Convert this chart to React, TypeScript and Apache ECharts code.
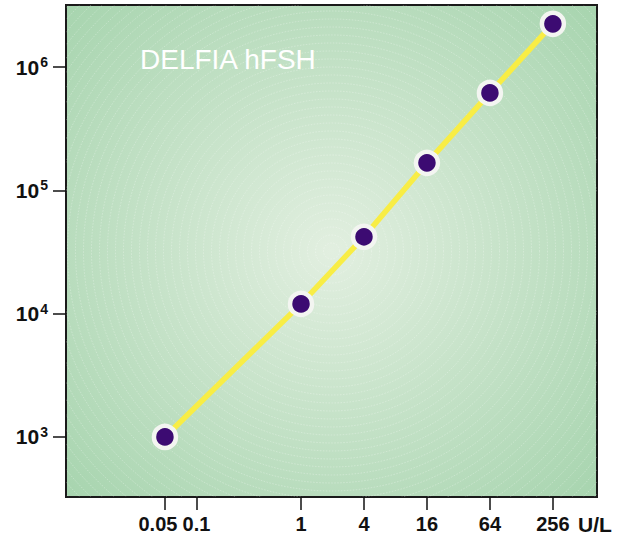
import React, { useEffect, useRef } from "react";
import * as echarts from "echarts";

const concentrations = [0.05, 1, 4, 16, 64, 256];
const counts = [1000, 12000, 42000, 167000, 617000, 2240000];
const xTickValues = [0.05, 0.1, 1, 4, 16, 64, 256];
const xTickLabels = ["0.05", "0.1", "1", "4", "16", "64", "256"];
const yTickValues = [1000, 10000, 100000, 1000000];
const titleText = "DELFIA hFSH";
const unitText = "U/L";

const FONT = "'Liberation Sans', Arial, Helvetica, sans-serif";

export default function App() {
  const ref = useRef<HTMLDivElement>(null);
  useEffect(() => {
    if (!ref.current) return;
    const chart = echarts.init(ref.current, null, { renderer: "svg" });
    const xMin = -2.247;
    const xMax = 2.83;
    const yMin = 2.513;
    const yMax = 6.503;
    const xLog = xTickValues.map((v) => Math.log10(v));
    const yLog = yTickValues.map((v) => Math.log10(v));
    const points = concentrations.map((c, i) => [Math.log10(c), Math.log10(counts[i])]);

    const nearestIndex = (v: number) => {
      let best = 0;
      let bd = Infinity;
      xLog.forEach((t, i) => {
        const d = Math.abs(t - v);
        if (d < bd) {
          bd = d;
          best = i;
        }
      });
      return best;
    };

    chart.setOption({
      animation: false,
      title: {
        text: titleText,
        left: 135,
        top: 40,
        textStyle: { color: "#ffffff", fontSize: 28, fontWeight: "normal", fontFamily: FONT },
      },
      grid: {
        left: 66,
        right: 42,
        top: 5,
        bottom: 40,
        show: true,
        borderColor: "#1a1a1a",
        borderWidth: 2,
        backgroundColor: {
          type: "radial",
          x: 0.5,
          y: 0.5,
          r: 0.74,
          colorStops: [
            { offset: 0, color: "#e2efe0" },
            { offset: 1, color: "#a4d3ac" },
          ],
        },
      },
      xAxis: {
        type: "value",
        min: xMin,
        max: xMax,
        splitLine: { show: false },
        axisLine: { show: false, onZero: false },
        axisTick: {
          show: true,
          length: 13,
          customValues: xLog,
          lineStyle: { color: "#111", width: 1.5 },
        },
        axisLabel: {
          customValues: xLog,
          margin: 17,
          hideOverlap: false,
          formatter: (v: number) => {
            const i = nearestIndex(v);
            return i === 0 ? "{l|" + xTickLabels[i] + "}" : xTickLabels[i];
          },
          color: "#111",
          fontSize: 20,
          fontWeight: "bold",
          fontFamily: FONT,
          rich: {
            l: {
              fontSize: 20,
              fontWeight: "bold",
              fontFamily: FONT,
              color: "#111",
              padding: [0, 14, 0, 0],
            },
          },
        },
      },
      yAxis: {
        type: "value",
        min: yMin,
        max: yMax,
        splitLine: { show: false },
        axisLine: { show: false, onZero: false },
        axisTick: {
          show: true,
          length: 13,
          customValues: yLog,
          lineStyle: { color: "#111", width: 1.5 },
        },
        axisLabel: {
          customValues: yLog,
          margin: 18,
          hideOverlap: false,
          formatter: (v: number) => "{b|10}{s|" + Math.round(v) + "}",
          rich: {
            b: { fontSize: 21, fontWeight: "bold", fontFamily: FONT, color: "#111" },
            s: {
              fontSize: 14,
              fontWeight: "bold",
              fontFamily: FONT,
              color: "#111",
              verticalAlign: "top",
              padding: [0, 0, 10, 1],
            },
          },
        },
      },
      graphic: [
        {
          type: "text",
          left: 578,
          top: 514,
          style: {
            text: unitText,
            fill: "#111",
            fontSize: 21,
            fontWeight: "bold",
            fontFamily: FONT,
          },
        },
      ],
      series: [
        {
          type: "custom",
          silent: true,
          clip: true,
          z: 1,
          data: [[(xMin + xMax) / 2, (yMin + yMax) / 2]],
          renderItem: (params: any, api: any) => {
            const c = api.coord([api.value(0), api.value(1)]);
            const children: any[] = [];
            for (let r = 8; r < 380; r += 8) {
              children.push({
                type: "circle",
                shape: { cx: c[0], cy: c[1], r },
                style: {
                  fill: "none",
                  stroke: "rgba(255,255,255,0.35)",
                  lineWidth: 0.8,
                  lineDash: [1.5, 1.5],
                },
              });
            }
            return { type: "group", children };
          },
        },
        {
          type: "line",
          z: 3,
          data: points,
          lineStyle: { color: "#f8ed45", width: 5.5 },
          symbol: "circle",
          symbolSize: 22,
          itemStyle: { color: "#3c0b72", borderColor: "#f3f5f1", borderWidth: 4.5, opacity: 1 },
        },
      ],
    });
    return () => chart.dispose();
  }, []);
  return (
    <div
      ref={ref}
      style={{ position: "absolute", left: 0, top: 0, width: 639, height: 537 }}
    />
  );
}
